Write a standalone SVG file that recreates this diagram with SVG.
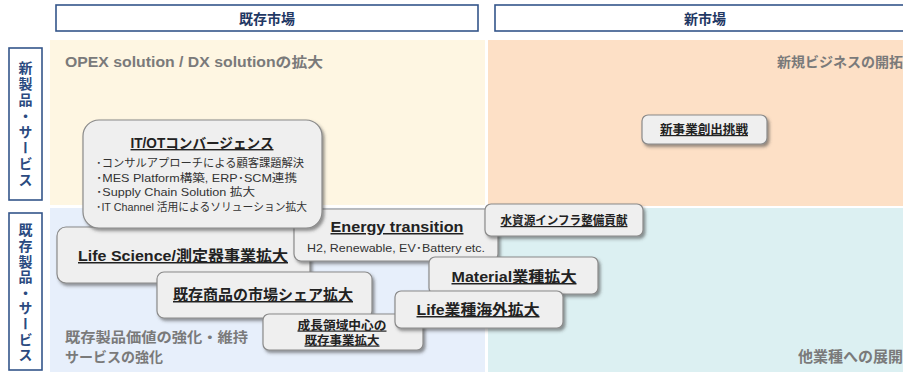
<svg xmlns="http://www.w3.org/2000/svg" width="903" height="372" viewBox="0 0 903 372">
<defs>
<filter id="sh" x="-10%" y="-20%" width="130%" height="150%">
<feDropShadow dx="2" dy="2.5" stdDeviation="1.5" flood-color="#404040" flood-opacity="0.55"/>
</filter>
<style>
.hdr{fill:#fff;stroke:#34558a;stroke-width:1.6}
.htx{font-family:"Noto Sans CJK JP","Liberation Sans",sans-serif;font-weight:bold;font-size:14px;fill:#1f3864;text-anchor:middle}
.vtx{font-family:"Noto Sans CJK JP",sans-serif;font-weight:bold;font-size:14px;fill:#2a4a80;writing-mode:vertical-rl;text-orientation:upright}
.qtx{font-family:"Liberation Sans","Noto Sans CJK JP",sans-serif;font-weight:bold;font-size:14px;fill:#7a7a7a}
.box{fill:#efefef;stroke:#8a8a8a;stroke-width:1.2;filter:url(#sh)}
.t{font-family:"Liberation Sans","Noto Sans CJK JP",sans-serif;font-weight:bold;fill:#222;text-anchor:middle;text-decoration:underline}
.s{font-family:"Liberation Sans","Noto Sans CJK JP",sans-serif;fill:#333;font-size:11px}
</style>
</defs>
<rect width="903" height="372" fill="#fff"/>
<!-- quadrants -->
<rect x="50" y="40" width="435" height="165" fill="#fef6e2"/>
<rect x="488" y="40" width="415" height="166" fill="#fde0c6"/>
<rect x="50" y="208" width="435" height="164" fill="#e7effb"/>
<rect x="488" y="208" width="415" height="164" fill="#dcf0f2"/>
<!-- headers -->
<g id="hdr-existing-market">
<rect class="hdr" x="56" y="5" width="422" height="26"/>
<text class="htx" x="267" y="24">既存市場</text>
</g>
<g id="hdr-new-market">
<rect class="hdr" x="495" y="5" width="420" height="26"/>
<text class="htx" x="705" y="24">新市場</text>
</g>
<g id="hdr-new-products">
<rect class="hdr" x="9" y="48" width="33" height="152"/>
<text class="vtx" x="25.5" y="61" letter-spacing="2">新製品・サービス</text>
</g>
<g id="hdr-existing-products">
<rect class="hdr" x="9" y="213" width="33" height="157"/>
<text class="vtx" x="25.5" y="223" letter-spacing="1.6">既存製品・サービス</text>
</g>
<!-- quadrant labels -->
<text class="qtx" x="65" y="67" textLength="258" lengthAdjust="spacingAndGlyphs">OPEX solution / DX solutionの拡大</text>
<text class="qtx" x="777" y="67" font-size="14">新規ビジネスの開拓</text>
<text class="qtx" x="65" y="342" textLength="183" lengthAdjust="spacingAndGlyphs">既存製品価値の強化・維持</text>
<text class="qtx" x="65" y="362" textLength="98" lengthAdjust="spacingAndGlyphs">サービスの強化</text>
<text class="qtx" x="798" y="362" style="font-size:15px">他業種への展開</text>
<!-- nodes -->
<g id="n-lifescience">
<rect class="box" x="57" y="227" width="253" height="56" rx="9"/>
<text class="t" x="183" y="261" font-size="15" textLength="210" lengthAdjust="spacingAndGlyphs">Life Science/測定器事業拡大</text>
</g>
<g id="n-energy">
<rect class="box" x="294" y="209" width="204" height="52" rx="7"/>
<text class="t" x="397" y="232" font-size="15" textLength="133" lengthAdjust="spacingAndGlyphs">Energy transition</text>
<text class="s" x="396" y="252" text-anchor="middle" textLength="178" lengthAdjust="spacingAndGlyphs" font-size="11.5">H2, Renewable, EV･Battery etc.</text>
</g>
<g id="n-itot">
<rect class="box" x="83" y="120" width="239" height="108" rx="16"/>
<text class="t" x="202" y="148" font-size="14" textLength="143" lengthAdjust="spacingAndGlyphs">IT/OTコンバージェンス</text>
<text class="s" x="96" y="167" textLength="208" lengthAdjust="spacingAndGlyphs">･コンサルアプローチによる顧客課題解決</text>
<text class="s" x="96" y="182" textLength="201" lengthAdjust="spacingAndGlyphs">･MES Platform構築, ERP･SCM連携</text>
<text class="s" x="96" y="196" textLength="159" lengthAdjust="spacingAndGlyphs">･Supply Chain Solution 拡大</text>
<text class="s" x="96" y="211" textLength="211" lengthAdjust="spacingAndGlyphs">･IT Channel 活用によるソリューション拡大</text>
</g>
<g id="n-water">
<rect class="box" x="485" y="204" width="158" height="32" rx="6"/>
<text class="t" x="564" y="225" font-size="12" textLength="127" lengthAdjust="spacingAndGlyphs">水資源インフラ整備貢献</text>
</g>
<g id="n-material">
<rect class="box" x="429" y="257" width="169" height="37" rx="6"/>
<text class="t" x="514" y="282" font-size="15" textLength="125" lengthAdjust="spacingAndGlyphs">Material業種拡大</text>
</g>
<g id="n-share">
<rect class="box" x="157" y="272" width="215" height="46" rx="7"/>
<text class="t" x="263" y="300" font-size="15" textLength="180" lengthAdjust="spacingAndGlyphs">既存商品の市場シェア拡大</text>
</g>
<g id="n-growth">
<rect class="box" x="263" y="314" width="160" height="36" rx="6"/>
<text class="t" x="342" y="329.5" font-size="12" textLength="89" lengthAdjust="spacingAndGlyphs">成長領域中心の</text>
<text class="t" x="342" y="344.5" font-size="12" textLength="75" lengthAdjust="spacingAndGlyphs">既存事業拡大</text>
</g>
<g id="n-life">
<rect class="box" x="395" y="291" width="168" height="37" rx="6"/>
<text class="t" x="478" y="315" font-size="15" textLength="123" lengthAdjust="spacingAndGlyphs">Life業種海外拡大</text>
</g>
<g id="n-newbiz">
<rect class="box" x="642" y="115" width="125" height="29" rx="6"/>
<text class="t" x="704" y="134" font-size="12" textLength="88" lengthAdjust="spacingAndGlyphs">新事業創出挑戦</text>
</g>
<g id="connectors"/>
</svg>
